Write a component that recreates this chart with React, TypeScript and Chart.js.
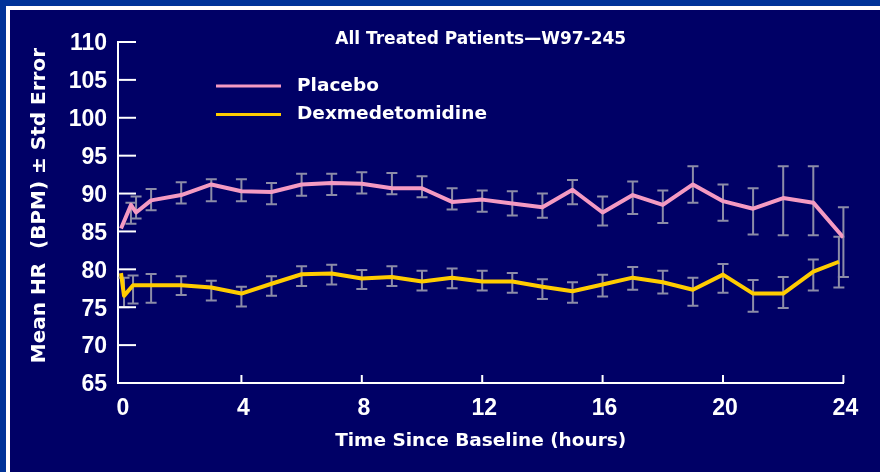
import React, { useEffect, useRef } from "react";
import { Chart, registerables } from "chart.js";

Chart.register(...registerables);

const chartTitle = "All Treated Patients\u2014W97-245";
const xAxisTitle = "Time Since Baseline (hours)";
const yAxisTitle = "  Mean HR  (BPM) \u00b1 Std Error";
const seriesNames = ["Placebo", "Dexmedetomidine"];

const xTicks = [0, 4, 8, 12, 16, 20, 24];
const yTicks = [65, 70, 75, 80, 85, 90, 95, 100, 105, 110];

const placeboHours = [0, 0.33, 0.5, 1, 2, 3, 4, 5, 6, 7, 8, 9, 10, 11, 12, 13, 14, 15, 16, 17, 18, 19, 20, 21, 22, 23, 24];
const placeboMean = [85.4, 88.5, 87.5, 89.1, 89.8, 91.2, 90.3, 90.2, 91.2, 91.4, 91.3, 90.7, 90.7, 88.9, 89.2, 88.7, 88.2, 90.5, 87.5, 89.8, 88.5, 91.2, 89.0, 88.0, 89.4, 88.8, 84.2];
const placeboUpper = [null, 88.8, 89.6, 90.6, 91.5, 91.9, 91.9, 91.4, 92.6, 92.6, 92.8, 92.7, 92.3, 90.7, 90.4, 90.3, 90.0, 91.8, 89.6, 91.6, 90.4, 93.6, 91.2, 90.7, 93.6, 93.6, 88.2];
const placeboLower = [null, 86.0, 86.7, 87.8, 88.7, 89.0, 89.0, 88.6, 89.7, 89.8, 90.0, 89.9, 89.5, 87.9, 87.6, 87.1, 86.8, 88.6, 85.8, 87.3, 86.1, 88.8, 86.4, 84.6, 84.5, 84.5, 79.0];

const dexHours = [0, 0.1, 0.4, 1, 2, 3, 4, 5, 6, 7, 8, 9, 10, 11, 12, 13, 14, 15, 16, 17, 18, 19, 20, 21, 22, 23, 23.85];
const dexMean = [79.5, 76.5, 77.9, 77.9, 77.9, 77.6, 76.8, 78.1, 79.35, 79.45, 78.8, 79.0, 78.4, 78.9, 78.4, 78.4, 77.7, 77.1, 78.0, 78.9, 78.3, 77.3, 79.3, 76.8, 76.8, 79.7, 81.0];
const dexUpper = [null, 78.9, 79.2, 79.4, 79.1, 78.5, 77.7, 79.1, 80.4, 80.6, 79.9, 80.4, 79.8, 80.1, 79.8, 79.5, 78.7, 78.3, 79.3, 80.3, 79.8, 78.9, 80.7, 78.6, 79.0, 81.3, 84.3];
const dexLower = [null, 75.0, 75.5, 75.6, 76.6, 75.9, 75.1, 76.5, 77.8, 78.0, 77.4, 77.8, 77.2, 77.5, 77.2, 76.9, 76.1, 75.6, 76.4, 77.3, 76.8, 75.2, 76.9, 74.4, 74.9, 77.2, 77.6];

const PINK = "#f49ac2";
const YELLOW = "#ffcc00";
const ERR = "#8c8ca8";
const NAVY = "#000066";
const BLUE = "#003399";
const FONT = '"Liberation Sans", Arial, Helvetica, sans-serif';
const WIDE = '"DejaVu Sans", Verdana, sans-serif';

const errorSets = [
  { hours: placeboHours, upper: placeboUpper, lower: placeboLower },
  { hours: dexHours, upper: dexUpper, lower: dexLower },
];

const decor = {
  id: "decor",
  beforeDatasetsDraw(chart: any) {
    const { ctx } = chart;
    const xs = chart.scales.x;
    const ys = chart.scales.y;
    ctx.save();
    ctx.strokeStyle = ERR;
    ctx.lineWidth = 2;
    errorSets.forEach((set) => {
      set.hours.forEach((h, i) => {
        const hi = set.upper[i];
        const lo = set.lower[i];
        if (hi == null || lo == null) return;
        const px = xs.getPixelForValue(h);
        const pt = ys.getPixelForValue(hi);
        const pb = ys.getPixelForValue(lo);
        ctx.beginPath();
        ctx.moveTo(px, pt);
        ctx.lineTo(px, pb);
        ctx.moveTo(px - 5.5, pt);
        ctx.lineTo(px + 5.5, pt);
        ctx.moveTo(px - 5.5, pb);
        ctx.lineTo(px + 5.5, pb);
        ctx.stroke();
      });
    });
    ctx.restore();
  },
  afterDraw(chart: any) {
    const { ctx, chartArea: ca } = chart;
    const xs = chart.scales.x;
    const ys = chart.scales.y;
    ctx.save();
    ctx.strokeStyle = "#ffffff";
    ctx.lineWidth = 2;
    ys.ticks.forEach((t: any) => {
      const py = ys.getPixelForValue(t.value);
      ctx.beginPath();
      ctx.moveTo(ca.left, py);
      ctx.lineTo(ca.left + 18, py);
      ctx.stroke();
    });
    xs.ticks.forEach((t: any) => {
      if (t.value === xTicks[0]) return;
      const px = xs.getPixelForValue(t.value);
      ctx.beginPath();
      ctx.moveTo(px, ca.bottom);
      ctx.lineTo(px, ca.bottom - 8);
      ctx.stroke();
    });
    // title
    ctx.fillStyle = "#ffffff";
    ctx.font = `bold 17px ${WIDE}`;
    ctx.textAlign = "center";
    ctx.textBaseline = "middle";
    ctx.fillText(chartTitle, (ca.left + ca.right) / 2, 40);
    // legend
    ctx.font = `bold 18.5px ${WIDE}`;
    ctx.textAlign = "left";
    chart.data.datasets.forEach((ds: any, i: number) => {
      const ly = 86 + i * 28.5;
      ctx.strokeStyle = ds.borderColor;
      ctx.lineWidth = 3;
      ctx.beginPath();
      ctx.moveTo(216, ly);
      ctx.lineTo(281, ly);
      ctx.stroke();
      ctx.fillText(ds.label, 297, ly);
    });
    ctx.restore();
  },
};

export default function App() {
  const ref = useRef<HTMLCanvasElement>(null);
  useEffect(() => {
    const canvas = ref.current!;
    const toPoints = (xs: number[], ys: number[]) => xs.map((x, i) => ({ x, y: ys[i] }));
    const tickFont = { family: FONT, weight: "bold" as const, size: 23 };
    const chart = new Chart(canvas, {
      type: "line",
      data: {
        datasets: [
          {
            label: seriesNames[0],
            data: toPoints(placeboHours, placeboMean),
            borderColor: PINK,
            backgroundColor: PINK,
            borderWidth: 4,
            pointRadius: 0,
            tension: 0,
            borderJoinStyle: "round",
          },
          {
            label: seriesNames[1],
            data: toPoints(dexHours, dexMean),
            borderColor: YELLOW,
            backgroundColor: YELLOW,
            borderWidth: 4,
            pointRadius: 0,
            tension: 0,
            borderJoinStyle: "round",
          },
        ],
      },
      options: {
        responsive: false,
        maintainAspectRatio: false,
        animation: false,
        layout: { padding: { left: 10, top: 42, right: 36.6, bottom: 0 } },
        plugins: { legend: { display: false }, tooltip: { enabled: false } },
        scales: {
          x: {
            type: "linear",
            min: -0.1,
            max: 24,
            afterBuildTicks: (s: any) => {
              s.ticks = xTicks.map((v) => ({ value: v }));
            },
            afterFit: (s: any) => {
              s.height = 89;
            },
            grid: { display: false, drawTicks: false },
            border: { display: true, color: "#ffffff", width: 2 },
            ticks: { color: "#ffffff", font: tickFont, padding: 12, labelOffset: 2, maxRotation: 0, autoSkip: false },
            title: {
              display: true,
              text: xAxisTitle,
              color: "#ffffff",
              font: { family: WIDE, weight: "bold", size: 18.5 },
              padding: { top: 0, bottom: 19.9 },
            },
          },
          y: {
            min: 65,
            max: 110,
            afterBuildTicks: (s: any) => {
              s.ticks = yTicks.map((v) => ({ value: v }));
            },
            afterFit: (s: any) => {
              s.width = 108;
            },
            grid: { display: false, drawTicks: false },
            border: { display: true, color: "#ffffff", width: 2 },
            ticks: { color: "#ffffff", font: tickFont, padding: 11, labelOffset: 2 },
            title: {
              display: true,
              text: yAxisTitle,
              color: "#ffffff",
              font: { family: WIDE, weight: "bold", size: 20 },
              padding: { top: 18, bottom: 0 },
            },
          },
        },
      },
      plugins: [decor],
    } as any);
    return () => chart.destroy();
  }, []);
  return (
    <div style={{ position: "fixed", left: 0, top: 0, width: 880, height: 472, background: BLUE, overflow: "hidden" }}>
      <div
        style={{
          position: "absolute",
          left: 6,
          top: 6,
          right: 0,
          bottom: 0,
          background: NAVY,
          borderTop: "4px solid #ffffff",
          borderLeft: "4px solid #ffffff",
        }}
      />
      <canvas ref={ref} width={880} height={472} style={{ position: "absolute", left: 0, top: 0, width: 880, height: 472 }} />
    </div>
  );
}
